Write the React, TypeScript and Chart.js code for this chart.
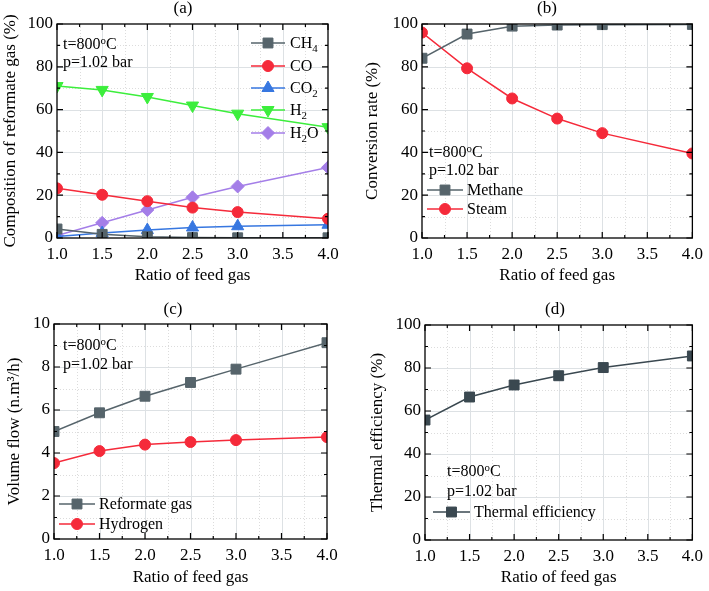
import React, { useEffect, useRef } from 'react';
import { Chart, registerables } from 'chart.js';

Chart.register(...registerables);

const FONT = "'Liberation Serif', 'Times New Roman', serif";

// ---- data ----
const feedRatio = [1.0, 1.5, 2.0, 2.5, 3.0, 4.0];
const xTickLabels = ['1.0', '1.5', '2.0', '2.5', '3.0', '3.5', '4.0'];

// (a) composition of reformate gas (%)
const ch4Comp = [4.2, 1.7, 0.6, 0.2, 0.1, 0.1];
const coComp = [23.2, 20.2, 17.2, 14.2, 12.1, 9.0];
const co2Comp = [0.7, 2.3, 3.7, 4.9, 5.5, 6.2];
const h2Comp = [71.0, 69.2, 65.9, 61.9, 58.1, 51.8];
const h2oComp = [1.2, 7.1, 13.1, 19.0, 24.1, 33.0];

// (b) conversion rate (%)
const methaneConv = [84.0, 95.3, 99.0, 99.5, 99.7, 99.8];
const steamConv = [96.0, 79.3, 65.2, 55.8, 49.0, 39.5];

// (c) volume flow (n.m3/h)
const reformateFlow = [5.0, 5.87, 6.64, 7.28, 7.9, 9.13];
const hydrogenFlow = [3.53, 4.09, 4.39, 4.51, 4.6, 4.74];

// (d) thermal efficiency (%)
const thermalEff = [55.8, 66.5, 72.1, 76.4, 80.2, 85.6];

const GRAY = '#56646b';
const DARK = '#3a4850';
const RED = '#f52a3a';
const BLUE = '#3777e0';
const GREEN = '#3cee3c';
const PURPLE = '#a47ee8';

type Series = { label: string; data: number[]; color: string; style: string; radius: number; rotation?: number };
type PanelDef = {
  left: number; top: number; width: number; height: number;
  area: { l: number; r: number; t: number; b: number };
  yMax: number; yStep: number; yTitle: string; yTitlePad: number; xTitlePad: number;
  title: string; titleX: number; titleY: number;
  notesX: number; notesY: number[];
  legend: { x1: number; x2: number; textX: number; ys: number[] };
  series: Series[];
};

const panels: PanelDef[] = [
  {
    left: 0, top: 0, width: 355, height: 295,
    area: { l: 57, r: 328, t: 24, b: 238 },
    yMax: 100, yStep: 20, yTitle: 'Composition of reformate gas (%)', yTitlePad: 0, xTitlePad: 9,
    title: '(a)', titleX: 183, titleY: 9,
    notesX: 63, notesY: [44, 62],
    legend: { x1: 251, x2: 285, textX: 290, ys: [43, 66, 88, 110, 133] },
    series: [
      { label: 'CH_{4}', data: ch4Comp, color: GRAY, style: 'rect', radius: 7 },
      { label: 'CO', data: coComp, color: RED, style: 'circle', radius: 5.5 },
      { label: 'CO_{2}', data: co2Comp, color: BLUE, style: 'triangle', radius: 7 },
      { label: 'H_{2}', data: h2Comp, color: GREEN, style: 'triangle', radius: 7, rotation: 180 },
      { label: 'H_{2}O', data: h2oComp, color: PURPLE, style: 'rectRot', radius: 6.5 },
    ],
  },
  {
    left: 355, top: 0, width: 354, height: 295,
    area: { l: 67, r: 339, t: 24, b: 238 },
    yMax: 100, yStep: 20, yTitle: 'Conversion rate (%)', yTitlePad: 7, xTitlePad: 9,
    title: '(b)', titleX: 192, titleY: 9,
    notesX: 74, notesY: [152, 170],
    legend: { x1: 72, x2: 108, textX: 112, ys: [190, 209] },
    series: [
      { label: 'Methane', data: methaneConv, color: GRAY, style: 'rect', radius: 7 },
      { label: 'Steam', data: steamConv, color: RED, style: 'circle', radius: 5.5 },
    ],
  },
  {
    left: 0, top: 295, width: 355, height: 296,
    area: { l: 54, r: 327, t: 29, b: 244 },
    yMax: 10, yStep: 2, yTitle: 'Volume flow (n.m³/h)', yTitlePad: 4, xTitlePad: 3,
    title: '(c)', titleX: 173, titleY: 15,
    notesX: 63, notesY: [50, 69],
    legend: { x1: 59, x2: 95, textX: 99, ys: [209, 229] },
    series: [
      { label: 'Reformate gas', data: reformateFlow, color: GRAY, style: 'rect', radius: 7 },
      { label: 'Hydrogen', data: hydrogenFlow, color: RED, style: 'circle', radius: 5.5 },
    ],
  },
  {
    left: 355, top: 295, width: 354, height: 296,
    area: { l: 70, r: 342, t: 30, b: 245 },
    yMax: 100, yStep: 20, yTitle: 'Thermal efficiency (%)', yTitlePad: 12, xTitlePad: 3,
    title: '(d)', titleX: 200, titleY: 15,
    notesX: 92, notesY: [176, 196],
    legend: { x1: 78, x2: 115, textX: 119, ys: [217] },
    series: [
      { label: 'Thermal efficiency', data: thermalEff, color: DARK, style: 'rect', radius: 7 },
    ],
  },
];

function parseRich(text: string) {
  const segs: { t: string; k: string }[] = [];
  const re = /([_^])\{([^}]*)\}/g;
  let last = 0;
  let m: RegExpExecArray | null;
  while ((m = re.exec(text))) {
    if (m.index > last) segs.push({ t: text.slice(last, m.index), k: 'n' });
    segs.push({ t: m[2], k: m[1] === '_' ? 'sub' : 'sup' });
    last = re.lastIndex;
  }
  if (last < text.length) segs.push({ t: text.slice(last), k: 'n' });
  return segs;
}

function drawRich(ctx: CanvasRenderingContext2D, text: string, x: number, y: number, size: number) {
  const segs = parseRich(text);
  ctx.textAlign = 'left';
  ctx.textBaseline = 'alphabetic';
  ctx.fillStyle = '#000';
  let cx = x;
  const base = y + size * 0.33;
  for (const s of segs) {
    if (s.k === 'n') {
      ctx.font = `${size}px ${FONT}`;
      ctx.fillText(s.t, cx, base);
      cx += ctx.measureText(s.t).width;
    } else {
      const ss = size * 0.68;
      ctx.font = `${ss}px ${FONT}`;
      const dy = s.k === 'sub' ? size * 0.24 : -size * 0.36;
      ctx.fillText(s.t, cx, base + dy);
      cx += ctx.measureText(s.t).width;
    }
  }
}

function drawMarker(ctx: CanvasRenderingContext2D, style: string, x: number, y: number, r: number, rot: number, color: string) {
  ctx.beginPath();
  if (style === 'circle') {
    ctx.arc(x, y, r, 0, Math.PI * 2);
  } else if (style === 'rect') {
    const s = r * Math.SQRT1_2;
    ctx.rect(x - s, y - s, 2 * s, 2 * s);
  } else if (style === 'triangle') {
    let a = (rot * Math.PI) / 180;
    for (let i = 0; i < 3; i++) {
      const px = x + Math.sin(a) * r;
      const py = y - Math.cos(a) * r;
      if (i === 0) ctx.moveTo(px, py); else ctx.lineTo(px, py);
      a += (2 * Math.PI) / 3;
    }
  } else {
    ctx.moveTo(x - r, y);
    ctx.lineTo(x, y - r);
    ctx.lineTo(x + r, y);
    ctx.lineTo(x, y + r);
  }
  ctx.closePath();
  ctx.fillStyle = color;
  ctx.fill();
  ctx.strokeStyle = color;
  ctx.lineWidth = 1;
  ctx.stroke();
}

function makePlugin(def: PanelDef) {
  const xMajors = [1, 1.5, 2, 2.5, 3, 3.5, 4];
  const xMinors = [1.25, 1.75, 2.25, 2.75, 3.25, 3.75];
  const nY = Math.round(def.yMax / def.yStep);
  const yMajors: number[] = [];
  const yMinors: number[] = [];
  for (let i = 0; i <= nY; i++) yMajors.push(i * def.yStep);
  for (let i = 0; i < nY; i++) yMinors.push(i * def.yStep + def.yStep / 2);
  return {
    id: 'frameDeco',
    beforeDatasetsDraw(chart: any) {
      const { ctx, chartArea: a } = chart;
      const xs = chart.scales.x;
      const ys = chart.scales.y;
      ctx.save();
      ctx.lineWidth = 1;
      ctx.strokeStyle = '#dcdcdc';
      ctx.setLineDash([1, 2]);
      ctx.beginPath();
      for (const v of xMinors) {
        const p = Math.round(xs.getPixelForValue(v)) + 0.5;
        ctx.moveTo(p, a.top); ctx.lineTo(p, a.bottom);
      }
      for (const v of yMinors) {
        const p = Math.round(ys.getPixelForValue(v)) + 0.5;
        ctx.moveTo(a.left, p); ctx.lineTo(a.right, p);
      }
      ctx.stroke();
      ctx.setLineDash([]);
      ctx.strokeStyle = '#dde1e4';
      ctx.beginPath();
      for (const v of xMajors.slice(1, -1)) {
        const p = Math.round(xs.getPixelForValue(v)) + 0.5;
        ctx.moveTo(p, a.top); ctx.lineTo(p, a.bottom);
      }
      for (const v of yMajors.slice(1, -1)) {
        const p = Math.round(ys.getPixelForValue(v)) + 0.5;
        ctx.moveTo(a.left, p); ctx.lineTo(a.right, p);
      }
      ctx.stroke();
      ctx.restore();
    },
    afterDatasetsDraw(chart: any) {
      const { ctx, chartArea: a } = chart;
      const xs = chart.scales.x;
      const ys = chart.scales.y;
      ctx.save();
      ctx.strokeStyle = '#000';
      ctx.lineWidth = 1.3;
      ctx.strokeRect(a.left, a.top, a.right - a.left, a.bottom - a.top);
      ctx.lineWidth = 1.2;
      ctx.beginPath();
      const tickX = (v: number, len: number) => {
        const p = xs.getPixelForValue(v);
        ctx.moveTo(p, a.bottom); ctx.lineTo(p, a.bottom - len);
        ctx.moveTo(p, a.top); ctx.lineTo(p, a.top + len);
      };
      const tickY = (v: number, len: number) => {
        const p = ys.getPixelForValue(v);
        ctx.moveTo(a.left, p); ctx.lineTo(a.left + len, p);
        ctx.moveTo(a.right, p); ctx.lineTo(a.right - len, p);
      };
      xMajors.forEach((v) => tickX(v, 6));
      xMinors.forEach((v) => tickX(v, 3));
      yMajors.forEach((v) => tickY(v, 6));
      yMinors.forEach((v) => tickY(v, 3));
      ctx.stroke();
      ctx.restore();
    },
    afterDraw(chart: any) {
      const ctx: CanvasRenderingContext2D = chart.ctx;
      ctx.save();
      ctx.fillStyle = '#000';
      ctx.font = `17px ${FONT}`;
      ctx.textAlign = 'center';
      ctx.textBaseline = 'middle';
      ctx.fillText(def.title, def.titleX, def.titleY);
      drawRich(ctx, 't=800^{o}C', def.notesX, def.notesY[0], 16);
      drawRich(ctx, 'p=1.02 bar', def.notesX, def.notesY[1], 16);
      def.series.forEach((s, i) => {
        const y = def.legend.ys[i];
        ctx.strokeStyle = s.color;
        ctx.lineWidth = 1.5;
        ctx.beginPath();
        ctx.moveTo(def.legend.x1, y);
        ctx.lineTo(def.legend.x2, y);
        ctx.stroke();
        drawMarker(ctx, s.style, (def.legend.x1 + def.legend.x2) / 2, y, s.radius, s.rotation || 0, s.color);
        drawRich(ctx, s.label, def.legend.textX, y, 16);
      });
      ctx.restore();
    },
  };
}

function Panel({ def }: { def: PanelDef }) {
  const ref = useRef<HTMLCanvasElement | null>(null);
  useEffect(() => {
    if (!ref.current) return;
    const tickFont = { family: FONT, size: 17 };
    const chart = new Chart(ref.current, {
      type: 'line',
      data: {
        datasets: def.series.map((s) => ({
          label: s.label,
          data: feedRatio.map((x, i) => ({ x, y: s.data[i] })),
          borderColor: s.color,
          backgroundColor: s.color,
          pointStyle: s.style as any,
          pointRadius: s.radius,
          pointRotation: s.rotation || 0,
          pointBorderWidth: 1,
          borderWidth: 1.5,
          tension: 0,
        })),
      },
      options: {
        animation: false,
        responsive: false,
        maintainAspectRatio: false,
        layout: { padding: { top: def.area.t, right: def.width - def.area.r, left: 0, bottom: 0 } },
        plugins: { legend: { display: false }, tooltip: { enabled: false }, title: { display: false } },
        scales: {
          x: {
            type: 'linear',
            min: 1,
            max: 4,
            grid: { display: false, drawTicks: false },
            border: { display: false },
            ticks: {
              stepSize: 0.5,
              autoSkip: false,
              maxRotation: 0,
              padding: 6,
              color: '#000',
              font: tickFont,
              callback: (v: any) => xTickLabels[Math.round((Number(v) - 1) * 2)] ?? '',
            },
            title: {
              display: true,
              text: 'Ratio of feed gas',
              color: '#000',
              font: tickFont,
              padding: { top: 0, bottom: def.xTitlePad },
            },
            afterFit: (scale: any) => { scale.height = def.height - def.area.b; },
          },
          y: {
            type: 'linear',
            min: 0,
            max: def.yMax,
            grid: { display: false, drawTicks: false },
            border: { display: false },
            ticks: { stepSize: def.yStep, padding: 4, color: '#000', font: tickFont },
            title: {
              display: true,
              text: def.yTitle,
              color: '#000',
              font: tickFont,
              padding: { top: def.yTitlePad, bottom: 0 },
            },
            afterFit: (scale: any) => { scale.width = def.area.l; },
          },
        },
      } as any,
      plugins: [makePlugin(def)],
    });
    return () => chart.destroy();
  }, [def]);
  return (
    <canvas
      ref={ref}
      width={def.width}
      height={def.height}
      style={{ position: 'absolute', left: def.left, top: def.top, width: def.width, height: def.height }}
    />
  );
}

export default function App() {
  return (
    <div style={{ position: 'absolute', left: 0, top: 0, width: 709, height: 591, background: '#fff', overflow: 'hidden' }}>
      {panels.map((p, i) => (
        <Panel key={i} def={p} />
      ))}
    </div>
  );
}
